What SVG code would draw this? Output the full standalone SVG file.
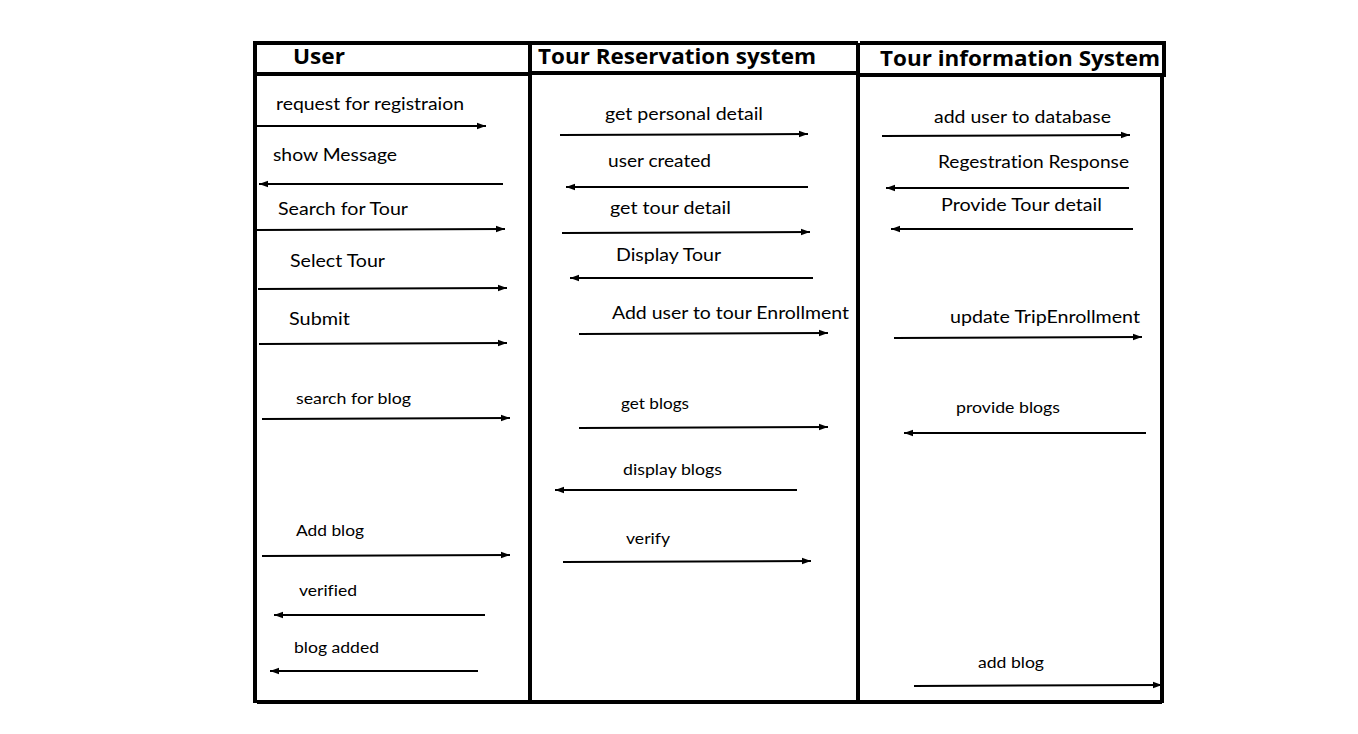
<svg xmlns="http://www.w3.org/2000/svg" width="1358" height="734" viewBox="0 0 1358 734">
<style>
.frame{stroke:#000;stroke-width:4;fill:none}
.hd{font-family:"Open Sans","Liberation Sans",sans-serif;font-weight:bold;font-size:21px;fill:#000}
.lb{font-family:Lato,"Open Sans","Liberation Sans",sans-serif;font-size:17px;fill:#000;font-variant-ligatures:none}
.sm{font-family:Lato,"Open Sans","Liberation Sans",sans-serif;font-size:16px;fill:#000;font-variant-ligatures:none}
.msg{stroke:#000;stroke-width:2;fill:none;marker-end:url(#ah)}
</style>
<defs>
<marker id="ah" markerUnits="userSpaceOnUse" markerWidth="10" markerHeight="8" refX="9" refY="4" orient="auto">
<path d="M0,0.8 L9,4 L0,7.2 Z" fill="#000"/>
</marker>
</defs>
<rect width="1358" height="734" fill="#fff"/>
<g id="frame">
<path class="frame" d="M255,43 H858 M255,41 V703 M255,74 H530 M530,43 V703 M530,73 H858 M858,43 V703 M860,43 H1164 V75 H860 M1162,75 V703 M257,702 H1162"/>
</g>
<g id="lane-user">
<text class="hd" x="293" y="64" textLength="52" lengthAdjust="spacingAndGlyphs">User</text>
</g>
<g id="lane-reservation">
<text class="hd" x="538" y="64" textLength="278" lengthAdjust="spacingAndGlyphs">Tour Reservation system</text>
</g>
<g id="lane-information">
<text class="hd" x="880" y="66" textLength="280" lengthAdjust="spacingAndGlyphs">Tour information System</text>
</g>
<g id="connectors">
<line class="msg" x1="257" y1="126" x2="486" y2="126"/>
<line class="msg" x1="503" y1="184" x2="259" y2="184"/>
<line class="msg" x1="257" y1="230" x2="505" y2="229"/>
<line class="msg" x1="258" y1="289" x2="507" y2="288"/>
<line class="msg" x1="259" y1="344" x2="507" y2="343"/>
<line class="msg" x1="262" y1="419" x2="510" y2="418"/>
<line class="msg" x1="262" y1="556" x2="510" y2="555"/>
<line class="msg" x1="485" y1="615" x2="274" y2="615"/>
<line class="msg" x1="478" y1="671" x2="270" y2="671"/>
<line class="msg" x1="560" y1="135" x2="808" y2="134"/>
<line class="msg" x1="808" y1="187" x2="566" y2="187"/>
<line class="msg" x1="562" y1="233" x2="810" y2="232"/>
<line class="msg" x1="813" y1="278" x2="570" y2="278"/>
<line class="msg" x1="579" y1="334" x2="828" y2="333"/>
<line class="msg" x1="579" y1="428" x2="828" y2="427"/>
<line class="msg" x1="797" y1="490" x2="555" y2="490"/>
<line class="msg" x1="563" y1="562" x2="811" y2="561"/>
<line class="msg" x1="882" y1="136" x2="1130" y2="135"/>
<line class="msg" x1="1129" y1="188" x2="886" y2="188"/>
<line class="msg" x1="1133" y1="229" x2="891" y2="229"/>
<line class="msg" x1="894" y1="338" x2="1142" y2="337"/>
<line class="msg" x1="1146" y1="433" x2="904" y2="433"/>
<line class="msg" x1="914" y1="686" x2="1162" y2="685"/>
</g>
<g id="labels">
<text class="lb" x="276" y="110" textLength="188" lengthAdjust="spacingAndGlyphs">request for registraion</text>
<text class="lb" x="273" y="161" textLength="124" lengthAdjust="spacingAndGlyphs">show Message</text>
<text class="lb" x="278" y="215" textLength="130" lengthAdjust="spacingAndGlyphs">Search for Tour</text>
<text class="lb" x="290" y="267" textLength="95" lengthAdjust="spacingAndGlyphs">Select Tour</text>
<text class="lb" x="289" y="325" textLength="61" lengthAdjust="spacingAndGlyphs">Submit</text>
<text class="sm" x="296" y="404" textLength="115" lengthAdjust="spacingAndGlyphs">search for blog</text>
<text class="sm" x="296" y="536" textLength="68" lengthAdjust="spacingAndGlyphs">Add blog</text>
<text class="sm" x="299" y="596" textLength="58" lengthAdjust="spacingAndGlyphs">verified</text>
<text class="sm" x="294" y="653" textLength="85" lengthAdjust="spacingAndGlyphs">blog added</text>
<text class="lb" x="605" y="120" textLength="158" lengthAdjust="spacingAndGlyphs">get personal detail</text>
<text class="lb" x="608" y="167" textLength="103" lengthAdjust="spacingAndGlyphs">user created</text>
<text class="lb" x="610" y="214" textLength="121" lengthAdjust="spacingAndGlyphs">get tour detail</text>
<text class="lb" x="616" y="261" textLength="105" lengthAdjust="spacingAndGlyphs">Display Tour</text>
<text class="lb" x="612" y="319" textLength="237" lengthAdjust="spacingAndGlyphs">Add user to tour Enrollment</text>
<text class="sm" x="621" y="409" textLength="68" lengthAdjust="spacingAndGlyphs">get blogs</text>
<text class="sm" x="623" y="475" textLength="99" lengthAdjust="spacingAndGlyphs">display blogs</text>
<text class="sm" x="626" y="544" textLength="44" lengthAdjust="spacingAndGlyphs">verify</text>
<text class="lb" x="934" y="123" textLength="177" lengthAdjust="spacingAndGlyphs">add user to database</text>
<text class="lb" x="938" y="168" textLength="191" lengthAdjust="spacingAndGlyphs">Regestration Response</text>
<text class="lb" x="941" y="211" textLength="161" lengthAdjust="spacingAndGlyphs">Provide Tour detail</text>
<text class="lb" x="950" y="323" textLength="190" lengthAdjust="spacingAndGlyphs">update TripEnrollment</text>
<text class="sm" x="956" y="413" textLength="104" lengthAdjust="spacingAndGlyphs">provide blogs</text>
<text class="sm" x="978" y="668" textLength="66" lengthAdjust="spacingAndGlyphs">add blog</text>
</g>
</svg>
